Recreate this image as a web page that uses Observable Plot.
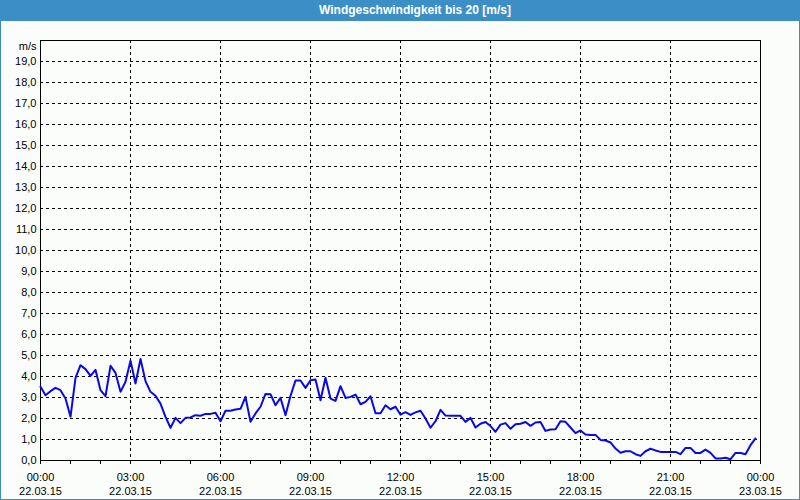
<!DOCTYPE html>
<html><head><meta charset="utf-8">
<script src="https://cdn.jsdelivr.net/npm/d3@7"></script>
<script src="https://cdn.jsdelivr.net/npm/@observablehq/plot@0.6"></script>
<style>
html,body{margin:0;padding:0;background:#fff;}
#wrap{width:800px;height:500px;box-sizing:border-box;border:1px solid #3c8fc6;border-top:none;background:#fbfdfb;font-family:"Liberation Sans",Arial,sans-serif;overflow:hidden;}
#title{height:21px;background:#3c8fc6;color:#fff;font-weight:bold;font-size:12px;line-height:21px;text-align:center;padding-left:30px;box-sizing:border-box;}
#chart svg{display:block;}
</style></head><body>
<div id="wrap"><div id="title">Windgeschwindigkeit bis 20 [m/s]</div><div id="chart"></div></div>
<script>
// Measurement start and sampling interval (10 minutes)
const startTime = "2015-03-22T00:00:00Z";
const endTime = "2015-03-23T00:00:00Z";
const stepMinutes = 10;

// Wind speed in m/s, every 10 minutes from 00:00 to 23:50
const speeds = [
  3.51, 3.11, 3.30, 3.46, 3.35, 2.95, // 00
  2.08, 3.94, 4.54, 4.35, 4.03, 4.32, // 01
  3.35, 3.06, 4.51, 4.17, 3.27, 3.75, // 02
  4.75, 3.67, 4.83, 3.78, 3.27, 3.08, // 03
  2.71, 2.08, 1.56, 2.03, 1.78, 2.03, // 04
  2.05, 2.16, 2.13, 2.22, 2.22, 2.27, // 05
  1.87, 2.37, 2.37, 2.43, 2.46, 3.03, // 06
  1.84, 2.24, 2.56, 3.17, 3.16, 2.63, // 07
  2.98, 2.16, 3.08, 3.81, 3.81, 3.46, // 08
  3.82, 3.86, 2.87, 3.94, 2.95, 2.84, // 09
  3.54, 2.98, 3.03, 3.14, 2.68, 2.79, // 10
  3.06, 2.25, 2.25, 2.63, 2.44, 2.56, // 11
  2.18, 2.30, 2.17, 2.29, 2.37, 2.00, // 12
  1.56, 1.87, 2.41, 2.14, 2.13, 2.13, // 13
  2.13, 1.84, 2.03, 1.57, 1.75, 1.83, // 14
  1.64, 1.37, 1.71, 1.78, 1.51, 1.73, // 15
  1.75, 1.83, 1.65, 1.81, 1.83, 1.41, // 16
  1.48, 1.49, 1.87, 1.84, 1.57, 1.30, // 17
  1.43, 1.24, 1.22, 1.22, 0.98, 0.95, // 18
  0.86, 0.57, 0.37, 0.44, 0.44, 0.30, // 19
  0.22, 0.44, 0.56, 0.48, 0.41, 0.41, // 20
  0.41, 0.41, 0.30, 0.60, 0.60, 0.36, // 21
  0.36, 0.52, 0.36, 0.10, 0.10, 0.13, // 22
  0.06, 0.36, 0.36, 0.30, 0.73, 1.05  // 23
];

// Axis ticks
const yTicks = [0,1,2,3,4,5,6,7,8,9,10,11,12,13,14,15,16,17,18,19];
const yMax = 20;
const yUnit = "m/s";
const majorHours = [0,3,6,9,12,15,18,21,24];
const minorHours = [0,1,2,3,4,5,6,7,8,9,10,11,12,13,14,15,16,17,18,19,20,21,22,23,24];

const t0 = new Date(startTime);
const data = speeds.map((v, i) => ({t: d3.utcMinute.offset(t0, i * stepMinutes), v}));
const majorTimes = majorHours.map(h => d3.utcHour.offset(t0, h));
const minorTimes = minorHours.map(h => d3.utcHour.offset(t0, h));
const fmt = d3.utcFormat("%H:%M\n%d.%m.%y");
const dash = {stroke: "#000", strokeOpacity: 1, strokeDasharray: "3,3", strokeWidth: 1};

const chart = Plot.plot({
  width: 798, height: 478,
  marginLeft: 39, marginRight: 39, marginTop: 19, marginBottom: 39,
  style: {background: "transparent", fontFamily: "'Liberation Sans', Arial, sans-serif", fontSize: "11px", color: "#000"},
  x: {type: "utc", domain: [t0, new Date(endTime)]},
  y: {domain: [0, yMax]},
  marks: [
    Plot.gridY(yTicks.slice(1), dash),
    Plot.gridX(majorTimes.slice(1, -1), dash),
    Plot.frame({stroke: "#000", strokeWidth: 1}),
    Plot.axisY(yTicks, {tickSize: 0, tickPadding: 4, tickFormat: d => d.toFixed(1).replace(".", ","), label: null}),
    Plot.axisY([yMax], {tickSize: 0, tickPadding: 4, tickFormat: () => yUnit, dy: 6, label: null}),
    Plot.axisX(minorTimes, {tickSize: 4, tickFormat: () => "", label: null, stroke: "#000"}),
    Plot.axisX(majorTimes, {tickSize: 4, tickPadding: 6, tickFormat: fmt, label: null, lineHeight: 1.32}),
    Plot.line(data, {x: "t", y: "v", stroke: "#0808e8", strokeWidth: 2})
  ]
});
document.getElementById("chart").appendChild(chart);
</script>
</body></html>
